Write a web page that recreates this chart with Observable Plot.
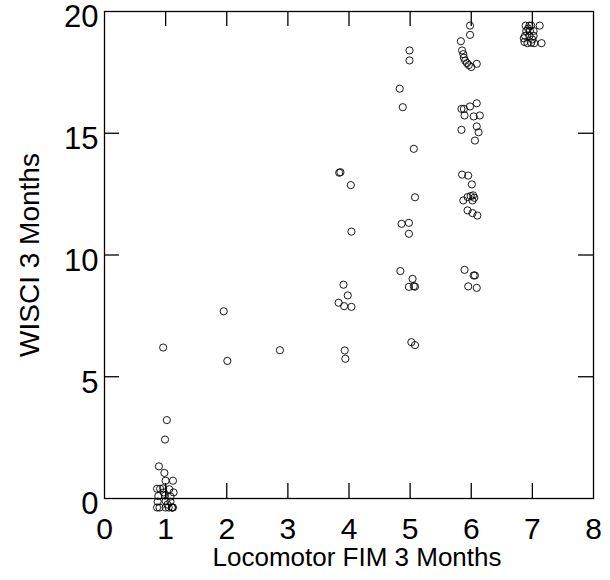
<!DOCTYPE html>
<html>
<head>
<meta charset="utf-8">
<script src="https://cdn.jsdelivr.net/npm/d3@7"></script>
<script src="https://cdn.jsdelivr.net/npm/@observablehq/plot@0.6"></script>
<style>
  html, body { margin: 0; padding: 0; background: #fff; }
  #chart { width: 610px; height: 580px; }
  svg { font-family: "Liberation Sans", Arial, Helvetica, sans-serif; }
</style>
</head>
<body>
<div id="chart"></div>
<script>
// Locomotor FIM at 3 months (jittered around integer levels)
const fim = [
  0.96, 1.02, 0.99, 0.89, 0.98, 1.00, 1.12,
  0.86, 0.91, 0.96, 1.06, 1.13, 0.88, 0.99, 1.08,
  0.87, 1.00, 1.08, 0.86, 0.90, 1.00, 1.05, 1.10, 1.12, 0.97, 1.03, 1.11,
  1.95, 2.01,
  2.87,
  3.84, 3.86, 4.03, 4.04, 3.91, 3.98, 3.83, 3.92, 4.04, 3.93, 3.94,
  4.99, 4.99, 4.83, 4.88, 5.06, 5.08, 4.86, 4.98, 4.98, 4.84, 5.04, 4.98, 5.06, 5.08, 5.02, 5.08,
  5.98, 5.98, 5.83, 5.85, 5.87, 5.88, 5.90, 5.93, 5.96, 6.00, 6.09,
  6.09, 5.98, 5.84, 5.88, 5.89, 6.04, 6.14, 6.09, 5.84, 6.12, 6.06,
  5.85, 5.95, 6.01, 5.99, 6.03, 5.94, 5.87, 6.02, 6.05, 5.94, 6.02, 6.10,
  5.89, 6.04, 6.06, 5.95, 6.09,
  6.89, 6.95, 6.98, 7.12, 6.90, 6.96, 7.02, 6.88, 6.95, 7.02, 6.87, 6.92, 6.98, 7.03, 7.15, 6.93, 7.00, 6.86
];
// WISCI at 3 months
const wisci = [
  6.20, 3.22, 2.42, 1.32, 1.05, 0.73, 0.73,
  0.40, 0.40, 0.42, 0.38, 0.25, 0.10, 0.12, 0.08,
  -0.13, -0.10, -0.13, -0.37, -0.37, -0.37, -0.37, -0.37, -0.37, 0.25, -0.25, -0.37,
  7.69, 5.65,
  6.09,
  13.38, 13.40, 12.87, 10.96, 8.78, 8.34, 8.04, 7.90, 7.87, 6.08, 5.74,
  18.40, 17.99, 16.83, 16.07, 14.36, 12.37, 11.28, 11.32, 10.87, 9.34, 9.02, 8.69, 8.72, 8.70, 6.42, 6.30,
  19.42, 19.04, 18.78, 18.40, 18.25, 18.10, 17.98, 17.88, 17.80, 17.72, 17.85,
  16.23, 16.10, 16.00, 16.00, 15.73, 15.69, 15.73, 15.28, 15.14, 15.04, 14.70,
  13.30, 13.26, 12.90, 12.42, 12.45, 12.38, 12.24, 12.24, 12.35, 11.83, 11.72, 11.62,
  9.39, 9.16, 9.16, 8.71, 8.65,
  19.42, 19.42, 19.42, 19.42, 19.20, 19.20, 19.20, 19.00, 19.00, 19.00, 18.75, 18.70, 18.72, 18.70, 18.70, 19.30, 18.85, 18.90
];
const xTickLabels = [0, 1, 2, 3, 4, 5, 6, 7, 8];
const yTickLabels = [0, 5, 10, 15, 20];
const xInnerTicks = [1, 2, 3, 4, 5, 6, 7];
const yInnerTicks = [5, 10, 15];
const xTitle = "Locomotor FIM 3 Months";
const yTitle = "WISCI 3 Months";

const points = fim.map((x, i) => ({x, y: wisci[i]}));

const W = 610, H = 580;
const mL = 104, mR = 17, mT = 11, mB = 82;
const innerW = W - mL - mR, innerH = H - mT - mB;
const tickLen = 15;

const chart = Plot.plot({
  width: W,
  height: H,
  marginLeft: mL,
  marginRight: mR,
  marginTop: mT,
  marginBottom: mB,
  style: {fontFamily: "'Liberation Sans', Arial, Helvetica, sans-serif", background: "#fff", color: "#000", overflow: "visible"},
  x: {domain: [0, 8]},
  y: {domain: [0, 20]},
  marks: [
    Plot.frame({stroke: "#000", strokeWidth: 1.3}),
    // inward ticks on all four sides
    Plot.tickX(xInnerTicks, {x: d => d, insetTop: innerH - tickLen, stroke: "#000", strokeWidth: 1.3}),
    Plot.tickX(xInnerTicks, {x: d => d, insetBottom: innerH - tickLen, stroke: "#000", strokeWidth: 1.3}),
    Plot.tickY(yInnerTicks, {y: d => d, insetRight: innerW - tickLen, stroke: "#000", strokeWidth: 1.3}),
    Plot.tickY(yInnerTicks, {y: d => d, insetLeft: innerW - tickLen, stroke: "#000", strokeWidth: 1.3}),
    Plot.axisX({ticks: xTickLabels, tickSize: 0, tickPadding: 19, fontSize: 30, label: null, tickFormat: d => String(d)}),
    Plot.axisY({ticks: yTickLabels, tickSize: 0, tickPadding: 6, fontSize: 31, label: null, dy: 6, tickFormat: d => String(d)}),
    Plot.text([xTitle], {frameAnchor: "bottom", text: d => d, dx: 8, dy: 59, lineAnchor: "middle", fontSize: 26, textAnchor: "middle", fill: "#000"}),
    Plot.text([yTitle], {frameAnchor: "left", text: d => d, dx: -74, rotate: -90, fontSize: 28, textAnchor: "middle", fill: "#000"}),
    Plot.dot(points, {x: "x", y: "y", r: 3.6, stroke: "#000", strokeWidth: 0.9, fill: "none", clip: false})
  ]
});
document.getElementById("chart").appendChild(chart);
</script>
</body>
</html>
